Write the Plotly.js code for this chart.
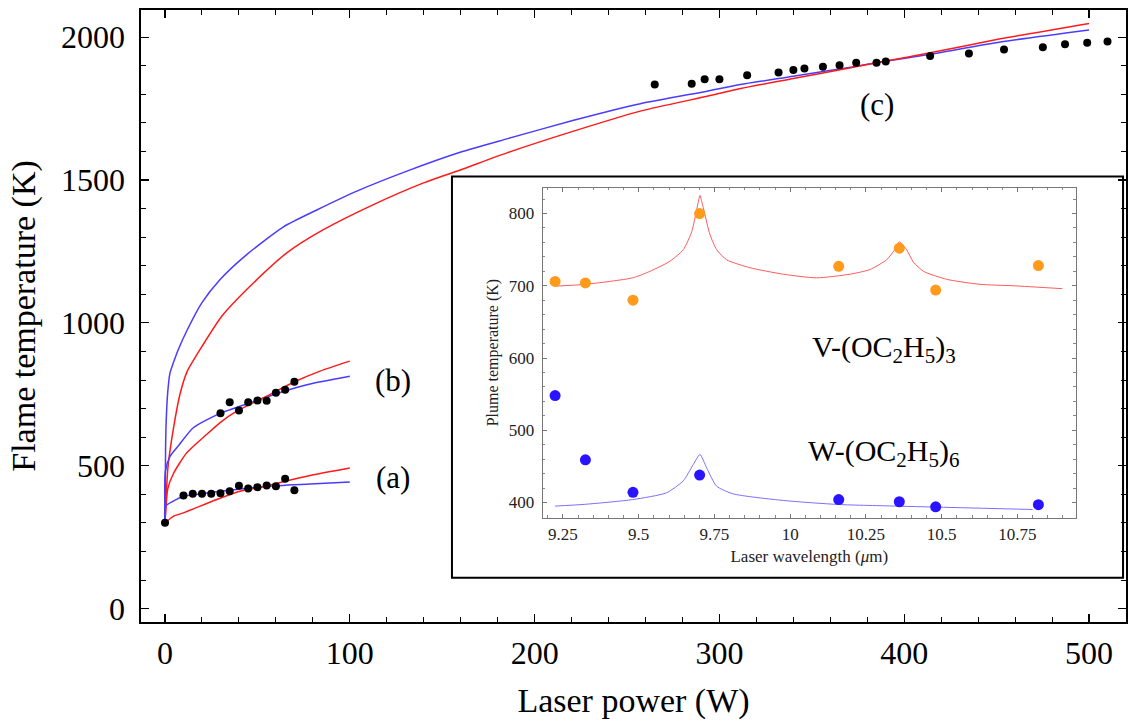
<!DOCTYPE html>
<html>
<head>
<meta charset="utf-8">
<script src="https://cdn.plot.ly/plotly-3.0.1.min.js"></script>
<style>html,body{margin:0;padding:0;background:#fff;}#chart{width:1132px;height:721px;}</style>
</head>
<body>
<div id="chart"></div>
<script>
// ---------- main panel: measured points ----------
const powerOrigin = [0];
const tempOrigin = [300];

const powerA = [10, 15, 20, 25, 30, 35, 40, 45, 50, 55, 60, 65, 70];
const tempA  = [396, 402, 402, 402, 404, 411, 430, 420, 425, 431, 428, 454, 414];

const powerB = [30, 35, 40, 45, 50, 55, 60, 65, 70];
const tempB  = [684, 722, 693, 722, 728, 727, 755, 766, 794];

const powerC = [265, 285, 292, 300, 315, 332, 340, 346, 356, 365, 374, 385, 390, 414, 435, 454, 475, 487, 499, 510];
const tempC  = [1834, 1837, 1853, 1853, 1867, 1876, 1885, 1890, 1896, 1902, 1910, 1910, 1915, 1934, 1943, 1957, 1965, 1975, 1980, 1985];

// ---------- main panel: model curves ----------
const curveAx     = [0, 0.2, 4.5, 9.9, 20.8, 38.8, 55, 78.5, 100];
const curveABlue  = [300, 358, 376, 393, 403, 417, 428, 436, 443];
const curveARedX  = [0, 4.5, 9.9, 28, 40, 46, 55, 64, 78.5, 100];
const curveARed   = [300, 323, 335, 382, 410, 418, 430, 444, 466, 492];

const curveBBlueX = [0, 0.2, 2.7, 7, 15.3, 29.8, 46, 64, 78.5, 100];
const curveBBlue  = [300, 480, 533, 568, 633, 683, 720, 760, 786, 813];
const curveBRedX  = [0, 1.5, 4.5, 11.7, 22.6, 30, 38.8, 55, 69.5, 83.9, 100];
const curveBRed   = [300, 420, 472, 545, 610, 652, 691, 743, 792, 831, 866];

const curveCBlueX = [0, 0.3, 0.6, 1.5, 2.7, 4.5, 7.2, 12, 19.9, 29.8, 44.2, 64.1, 82.1, 103.8, 130.9, 159.7, 185, 221.1, 257.2, 293.3, 311.4, 340, 371, 388, 414, 452, 500];
const curveCBlue  = [300, 560, 650, 760, 825, 860, 907, 975, 1070, 1152, 1239, 1336, 1395, 1461, 1531, 1597, 1644, 1709, 1767, 1811, 1834, 1863, 1895, 1914, 1940, 1983, 2025];
const curveCRedX  = [0, 1.5, 3.6, 8.1, 12, 19, 30.7, 46, 65.9, 85.7, 112.8, 139.9, 159.7, 185, 221.1, 257.2, 293.3, 311.4, 340, 371, 388, 414, 452, 500];
const curveCRed   = [300, 489, 592, 750, 830, 907, 1023, 1128, 1245, 1326, 1414, 1490, 1535, 1595, 1671, 1741, 1793, 1820, 1855, 1893, 1914, 1945, 1994, 2048];

// ---------- inset: measured points ----------
const waveV = [9.224, 9.324, 9.481, 9.701, 10.16, 10.36, 10.48, 10.819];
const tempV = [706, 704, 680, 800, 727, 752, 694, 728];
const waveW = [9.224, 9.324, 9.481, 9.701, 10.16, 10.36, 10.48, 10.819];
const tempW = [548, 459, 414, 438, 404, 401, 394, 397];

// ---------- inset: model curves ----------
const fitVx = [9.224, 9.324, 9.48, 9.537, 9.603, 9.647, 9.675, 9.697, 9.702, 9.713, 9.735, 9.757, 9.79, 9.867, 9.977, 10.087, 10.197, 10.263, 10.318, 10.345, 10.36, 10.384, 10.406, 10.44, 10.516, 10.626, 10.736, 10.898];
const fitV  = [699.5, 702, 711, 720, 734, 750, 775, 817, 825, 808, 771, 750, 736, 725, 716, 711, 716, 722.5, 736, 750, 761, 750, 733, 720, 709, 702, 700, 696];
const fitWx = [9.224, 9.324, 9.48, 9.592, 9.647, 9.68, 9.702, 9.724, 9.757, 9.811, 9.977, 10.16, 10.36, 10.80];
const fitW  = [395, 397.5, 404, 413.5, 430, 452.6, 466.5, 448, 422.6, 412, 402.8, 397.2, 394.9, 390.3];

// ---------- tick labels ----------
const insetTickVals = [9.25, 9.5, 9.75, 10, 10.25, 10.5, 10.75];
const insetTickText = ['9.25', '9.5', '9.75', '10', '10.25', '10.5', '10.75'];

const SERIF = 'Liberation Serif, Times New Roman, serif';
const RED = '#ff1a1a', BLUE = '#4a3cff';

function line(x, y, color, w, ax) {
  return {x: x, y: y, mode: 'lines', type: 'scatter', line: {color: color, width: w, shape: 'spline', smoothing: 0.6},
          xaxis: ax ? 'x2' : 'x', yaxis: ax ? 'y2' : 'y', hoverinfo: 'skip', showlegend: false};
}
function pts(x, y, color, size, ax) {
  return {x: x, y: y, mode: 'markers', type: 'scatter', marker: {color: color, size: size},
          xaxis: ax ? 'x2' : 'x', yaxis: ax ? 'y2' : 'y', showlegend: false};
}

const traces = [
  line(curveCBlueX, curveCBlue, BLUE, 1.5),
  line(curveCRedX, curveCRed, RED, 1.5),
  line(curveBBlueX, curveBBlue, BLUE, 1.5),
  line(curveBRedX, curveBRed, RED, 1.5),
  line(curveAx, curveABlue, BLUE, 1.5),
  line(curveARedX, curveARed, RED, 1.5),
  pts(powerOrigin, tempOrigin, '#000', 8),
  pts(powerA, tempA, '#000', 8),
  pts(powerB, tempB, '#000', 8),
  pts(powerC, tempC, '#000', 8),
  line(fitVx, fitV, '#ff5a5a', 1, true),
  line(fitWx, fitW, '#7a70ff', 1, true),
  pts(waveV, tempV, '#ff9a1a', 11, true),
  pts(waveW, tempW, '#2a14ff', 11, true)
];

const layout = {
  width: 1132, height: 721,
  margin: {l: 141, r: 6, t: 10, b: 99},
  paper_bgcolor: '#fff', plot_bgcolor: 'rgba(0,0,0,0)',
  font: {family: SERIF, color: '#000'},
  xaxis: {
    range: [-13, 520], tick0: 0, dtick: 100, ticks: 'inside', ticklen: 8, tickwidth: 1.2, tickcolor: '#000',
    minor: {dtick: 20, ticks: 'inside', ticklen: 5, tickwidth: 1, tickcolor: '#000'},
    showline: true, mirror: 'ticks', linecolor: '#000', linewidth: 1.6, showgrid: false, zeroline: false,
    tickfont: {family: SERIF, size: 32, color: '#000'}, ticklabelstandoff: 2,
    title: {text: 'Laser power (W)', font: {family: SERIF, size: 34, color: '#000'}, standoff: 18}
  },
  yaxis: {
    range: [-47, 2095], tick0: 0, dtick: 500, ticks: 'inside', ticklen: 8, tickwidth: 1.2, tickcolor: '#000',
    minor: {dtick: 100, ticks: 'inside', ticklen: 5, tickwidth: 1, tickcolor: '#000'},
    showline: true, mirror: 'ticks', linecolor: '#000', linewidth: 1.6, showgrid: false, zeroline: false,
    tickfont: {family: SERIF, size: 32, color: '#000'}, ticklabelstandoff: 8,
    title: {text: 'Flame temperature (K)', font: {family: SERIF, size: 34, color: '#000'}, standoff: 15}
  },
  xaxis2: {
    domain: [0.4078, 0.9492], anchor: 'y2', range: [9.183, 10.943],
    tickvals: insetTickVals, ticktext: insetTickText, ticks: 'inside', ticklen: 4, tickcolor: '#777',
    minor: {dtick: 0.05, tick0: 9.25, ticks: 'inside', ticklen: 2.5, tickcolor: '#888'},
    showline: true, mirror: 'ticks', linecolor: '#777', linewidth: 1, showgrid: false, zeroline: false,
    tickfont: {family: SERIF, size: 17, color: '#222'}, ticklabelstandoff: 1,
    title: {text: 'Laser wavelength (<i>μ</i>m)', font: {family: SERIF, size: 17, color: '#222'}, standoff: 7}
  },
  yaxis2: {
    domain: [0.1705, 0.7099], anchor: 'x2', range: [379, 836], tick0: 400, dtick: 100,
    ticks: 'inside', ticklen: 4, tickcolor: '#777',
    minor: {dtick: 20, ticks: 'inside', ticklen: 2.5, tickcolor: '#888'},
    showline: true, mirror: 'ticks', linecolor: '#777', linewidth: 1, showgrid: false, zeroline: false,
    tickfont: {family: SERIF, size: 17, color: '#222'}, ticklabelstandoff: 4,
    title: {text: 'Plume temperature (K)', font: {family: SERIF, size: 16, color: '#222'}, standoff: 6}
  },
  shapes: [
    {type: 'rect', xref: 'paper', yref: 'paper', x0: 0.3157, x1: 0.997, y0: 0.0724, y1: 0.7279,
     fillcolor: '#fff', line: {color: '#000', width: 2}, layer: 'below'}
  ],
  annotations: [
    {x: 123.2, y: 798, xref: 'x', yref: 'y', text: '(b)', showarrow: false, font: {family: SERIF, size: 31, color: '#000'}},
    {x: 123.2, y: 459, xref: 'x', yref: 'y', text: '(a)', showarrow: false, font: {family: SERIF, size: 31, color: '#000'}},
    {x: 385.2, y: 1766, xref: 'x', yref: 'y', text: '(c)', showarrow: false, font: {family: SERIF, size: 31, color: '#000'}},
    {x: 10.31, y: 612, xref: 'x2', yref: 'y2', text: 'V-(OC<sub>2</sub>H<sub>5</sub>)<sub>3</sub>', showarrow: false, font: {family: SERIF, size: 30, color: '#000'}},
    {x: 10.31, y: 468, xref: 'x2', yref: 'y2', text: 'W-(OC<sub>2</sub>H<sub>5</sub>)<sub>6</sub>', showarrow: false, font: {family: SERIF, size: 30, color: '#000'}}
  ],
  showlegend: false
};

Plotly.newPlot('chart', traces, layout, {displayModeBar: false, staticPlot: true});
</script>
</body>
</html>
